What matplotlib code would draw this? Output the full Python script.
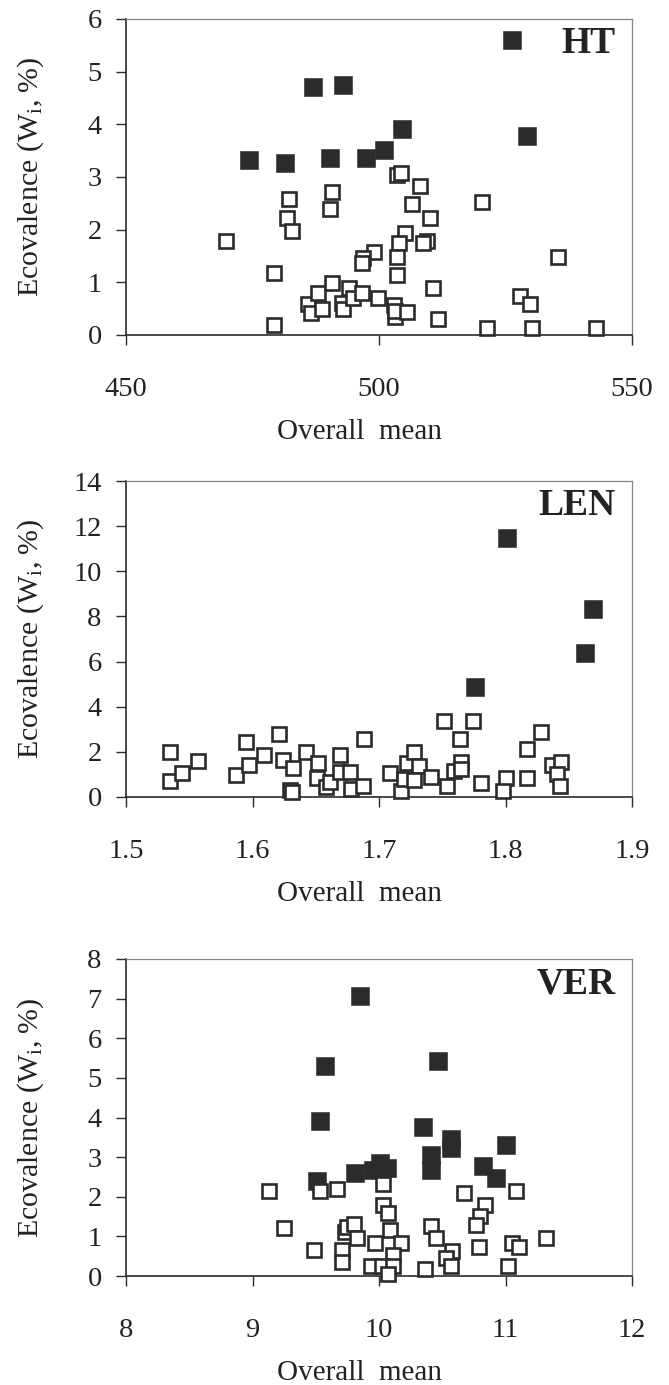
import matplotlib
matplotlib.use("Agg")
import matplotlib.pyplot as plt

plt.rcParams['font.family'] = ['Liberation Serif', 'DejaVu Serif']
plt.rcParams['mathtext.fontset'] = 'custom'
plt.rcParams['mathtext.rm'] = 'Liberation Serif'
plt.rcParams['mathtext.it'] = 'Liberation Serif'

# ---------------- data ----------------
ht_fill_x = [474.3, 481.4, 486.9, 492.9, 490.4, 497.5, 501.0, 504.6, 526.3, 529.3]
ht_fill_y = [3.32, 3.27, 4.70, 4.75, 3.37, 3.37, 3.52, 3.91, 5.60, 3.77]
ht_open_x = [469.7, 479.2, 479.2, 482.3, 481.8, 482.8, 490.8, 490.4, 486.0, 486.5,
             488.0, 488.7, 490.8, 492.6, 492.8, 494.0, 494.9, 496.6, 499.9, 499.0,
             496.9, 496.6, 503.6, 504.3, 508.1, 506.6, 510.1, 520.3, 505.1, 509.4,
             508.6, 504.0, 503.5, 503.5, 535.4, 510.6, 527.9, 529.8, 503.0, 503.2,
             503.2, 505.6, 511.6, 521.3, 530.3, 542.9]
ht_open_y = [1.78, 1.18, 0.19, 2.58, 2.23, 1.98, 2.72, 2.39, 0.59, 0.42,
             0.79, 0.49, 0.98, 0.60, 0.49, 0.89, 0.70, 0.79, 0.70, 1.58,
             1.46, 1.36, 3.04, 3.07, 2.83, 2.49, 2.23, 2.53, 1.93, 1.79,
             1.74, 1.74, 1.49, 1.14, 1.49, 0.89, 0.74, 0.59, 0.57, 0.35,
             0.46, 0.44, 0.30, 0.14, 0.14, 0.14]

len_fill_x = [1.801, 1.869, 1.863, 1.776]
len_fill_y = [11.46, 8.33, 6.37, 4.86]
len_open_x = [1.535, 1.535, 1.544, 1.557, 1.587, 1.595, 1.597, 1.609, 1.621, 1.624,
              1.632, 1.630, 1.631, 1.642, 1.652, 1.651, 1.658, 1.661, 1.669, 1.669,
              1.677, 1.678, 1.687, 1.688, 1.709, 1.722, 1.717, 1.720, 1.728, 1.732,
              1.728, 1.741, 1.751, 1.754, 1.759, 1.764, 1.765, 1.765, 1.774, 1.781,
              1.800, 1.798, 1.817, 1.817, 1.828, 1.837, 1.844, 1.841, 1.843]
len_open_y = [1.98, 0.72, 1.05, 1.61, 0.97, 2.44, 1.42, 1.86, 2.79, 1.64,
              1.27, 0.33, 0.24, 1.98, 1.52, 0.85, 0.45, 0.65, 1.86, 1.10,
              1.10, 0.37, 0.50, 2.57, 1.08, 1.49, 0.26, 0.78, 2.01, 1.37,
              0.75, 0.87, 3.37, 0.48, 1.15, 2.57, 1.56, 1.25, 3.37, 0.63,
              0.84, 0.25, 2.11, 0.86, 2.89, 1.42, 1.56, 1.00, 0.48]

ver_fill_x = [9.85, 9.571, 9.531, 9.513, 9.813, 9.95, 10.008, 10.06, 10.469, 10.35,
              10.41, 10.41, 10.567, 10.567, 11.004, 10.825, 10.925]
ver_fill_y = [7.07, 5.29, 3.91, 2.40, 2.59, 2.68, 2.85, 2.72, 5.43, 3.77,
              3.06, 2.68, 3.45, 3.22, 3.31, 2.78, 2.47]
ver_open_x = [9.13, 9.53, 9.67, 10.03, 10.03, 10.07, 9.25, 9.49, 9.71, 9.71,
              9.73, 9.75, 9.80, 9.83, 9.97, 10.09, 10.17, 10.11, 9.94, 10.02,
              10.11, 10.07, 10.36, 10.41, 10.45, 10.58, 10.53, 10.57, 10.67, 10.84,
              10.80, 10.77, 10.79, 11.05, 11.11, 11.02, 11.08, 11.32]
ver_open_y = [2.14, 2.14, 2.20, 2.33, 1.80, 1.59, 1.20, 0.66, 0.66, 0.36,
              1.10, 1.24, 1.32, 0.97, 0.84, 1.15, 0.84, 0.53, 0.25, 0.25,
              0.25, 0.05, 0.18, 1.26, 0.97, 0.62, 0.45, 0.25, 2.09, 1.80,
              1.52, 1.28, 0.72, 0.84, 0.72, 0.25, 2.14, 0.95]

panel_names = ["HT", "LEN", "VER"]
x_ticks = [[450, 500, 550], [1.5, 1.6, 1.7, 1.8, 1.9], [8, 9, 10, 11, 12]]
x_ticklabels = [["450", "500", "550"], ["1.5", "1.6", "1.7", "1.8", "1.9"],
                ["8", "9", "10", "11", "12"]]
y_ticks = [list(range(0, 7)), list(range(0, 15, 2)), list(range(0, 9))]
x_label = "Overall  mean"
y_label = r"Ecovalence (W$_{\mathregular{i}}$, %)"

fills = [(ht_fill_x, ht_fill_y), (len_fill_x, len_fill_y), (ver_fill_x, ver_fill_y)]
opens = [(ht_open_x, ht_open_y), (len_open_x, len_open_y), (ver_open_x, ver_open_y)]

# ---------------- figure ----------------
W, H = 669, 1385
fig = plt.figure(figsize=(W / 100, H / 100), dpi=100)

left_px, right_px = 126, 632
tops = [19, 481, 959]
bottoms = [335, 797, 1276]
dark = '#2b2b2b'

for i in range(3):
    ax = fig.add_axes([left_px / W, (H - bottoms[i]) / H,
                       (right_px - left_px) / W, (bottoms[i] - tops[i]) / H])
    fx, fy = fills[i]
    ox, oy = opens[i]
    ax.plot(fx, fy, linestyle='none', marker='s', markersize=12.3,
            markerfacecolor=dark, markeredgecolor=dark, markeredgewidth=0.4,
            clip_on=False, zorder=3)
    ax.plot(ox, oy, linestyle='none', marker='s', markersize=10.3,
            markerfacecolor='white', markeredgecolor=dark, markeredgewidth=1.9,
            clip_on=False, zorder=4)

    ax.set_xlim(x_ticks[i][0], x_ticks[i][-1])
    ax.set_ylim(y_ticks[i][0], y_ticks[i][-1])
    ax.set_xticks(x_ticks[i])
    ax.set_xticklabels(x_ticklabels[i])
    ax.set_yticks(y_ticks[i])
    ax.set_yticklabels([str(v) for v in y_ticks[i]])

    ax.tick_params(axis='both', direction='out', length=7.5, width=1.0,
                   colors=dark, labelsize=20.5, labelcolor='#222222')
    ax.tick_params(axis='x', pad=23)
    ax.tick_params(axis='y', pad=10)

    for s in ['left', 'bottom']:
        ax.spines[s].set_color(dark)
        ax.spines[s].set_linewidth(1.2)
    for s in ['top', 'right']:
        ax.spines[s].set_color('#858585')
        ax.spines[s].set_linewidth(0.9)

    ax.set_xlabel(x_label, fontsize=21, color='#222222')
    ax.xaxis.set_label_coords(0.462, -0.265)
    ax.set_ylabel(y_label, fontsize=21.5, color='#222222')
    ax.yaxis.set_label_coords(-0.158, 0.5)

    ax.text(0.968, 0.922, panel_names[i], transform=ax.transAxes,
            ha='right', va='center', fontsize=27, fontweight='bold',
            color='#222222')

fig.savefig("out.png", dpi=100)
